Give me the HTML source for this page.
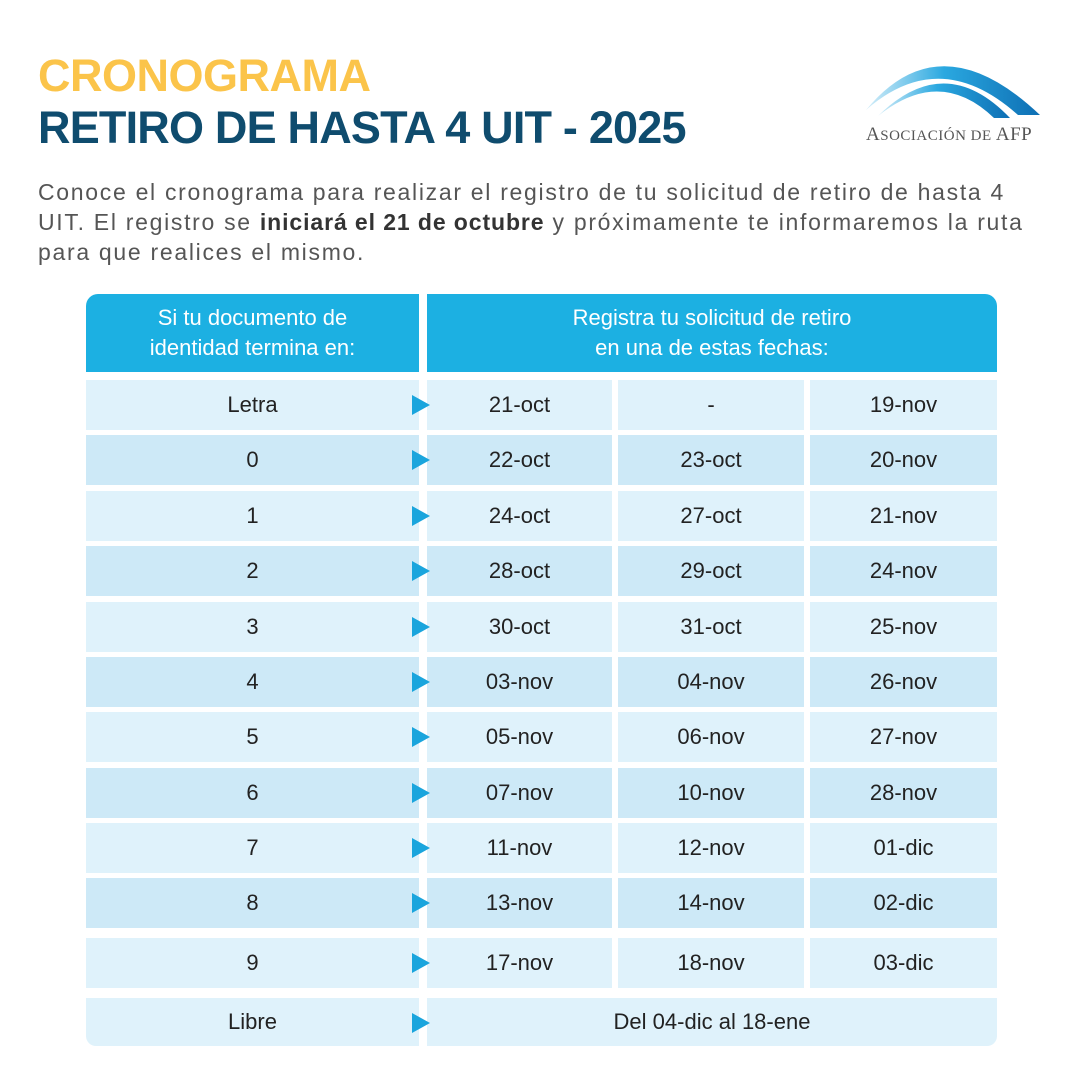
<!DOCTYPE html>
<html><head><meta charset="utf-8"><style>
*{margin:0;padding:0;box-sizing:border-box}
body{width:1080px;height:1072px;background:#fff;position:relative;overflow:hidden;font-family:"Liberation Sans",sans-serif}
.a{position:absolute}
.t1{left:38px;top:50px;font-size:45px;font-weight:bold;color:#fbc44a;letter-spacing:-0.5px}
.t2{left:38px;top:102px;font-size:45px;font-weight:bold;color:#0f4c6e;letter-spacing:-0.8px}
.p{left:38px;top:177px;width:1040px;font-size:23px;line-height:30px;color:#555;letter-spacing:1.7px;white-space:nowrap}
.p b{color:#333;letter-spacing:0.9px}
.h{background:#1cb0e2;color:#fff;font-size:22px;line-height:30px;text-align:center;display:flex;align-items:center;justify-content:center}
.c{display:flex;align-items:center;justify-content:center;font-size:22px;color:#222}
.tri{width:0;height:0;border-top:10px solid transparent;border-bottom:10px solid transparent;border-left:18px solid #1aa5dd}
</style></head><body>
<div class="a t1">CRONOGRAMA</div>
<div class="a t2">RETIRO DE HASTA 4 UIT - 2025</div>
<div class="a p">Conoce el cronograma para realizar el registro de tu solicitud de retiro de hasta 4<br>UIT. El registro se <b>iniciará el 21 de octubre</b> y próximamente te informaremos la ruta<br>para que realices el mismo.</div>
<svg class="a" style="left:860px;top:40px" width="190" height="80" viewBox="0 0 190 80">
<defs><linearGradient id="g" x1="0" x2="1"><stop offset="0" stop-color="#d5eef9"/><stop offset="0.45" stop-color="#2aa8e0"/><stop offset="1" stop-color="#0e6fb4"/></linearGradient></defs>
<path d="M6 70 Q80 -20 180 75 L158 75 Q80 5 6 70Z" fill="url(#g)"/>
<path d="M18 76 Q85 10 150 78 L134 78 Q80 26 18 76Z" fill="url(#g)"/>
</svg>
<div class="a" style="left:866px;top:124px;font-family:'Liberation Serif',serif;font-size:19px;color:#555;letter-spacing:0.5px">A<span style="font-size:15px">SOCIACIÓN DE</span> AFP</div>
<div class="a h" style="left:86px;top:294px;width:333px;height:78px;border-top-left-radius:12px">Si tu documento de<br>identidad termina en:</div>
<div class="a h" style="left:427px;top:294px;width:570px;height:78px;border-top-right-radius:12px">Registra tu solicitud de retiro<br>en una de estas fechas:</div>
<div id="rows"></div>
<script>
var d=[["Letra","21-oct","-","19-nov",405],["0","22-oct","23-oct","20-nov",460],["1","24-oct","27-oct","21-nov",516],["2","28-oct","29-oct","24-nov",571],["3","30-oct","31-oct","25-nov",627],["4","03-nov","04-nov","26-nov",682],["5","05-nov","06-nov","27-nov",737],["6","07-nov","10-nov","28-nov",793],["7","11-nov","12-nov","01-dic",848],["8","13-nov","14-nov","02-dic",903],["9","17-nov","18-nov","03-dic",963]];
var h="";
d.forEach(function(r,i){var bg=i%2?"#cde9f7":"#dff2fb";var t=r[4]-25;
h+='<div class="a c" style="left:86px;top:'+t+'px;width:333px;height:50px;background:'+bg+'">'+r[0]+'</div>';
var xs=[[427,185],[618,186],[810,187]];
for(var k=0;k<3;k++)h+='<div class="a c" style="left:'+xs[k][0]+'px;top:'+t+'px;width:'+xs[k][1]+'px;height:50px;background:'+bg+'">'+r[k+1]+'</div>';
h+='<div class="a tri" style="left:412px;top:'+(r[4]-10)+'px"></div>';});
h+='<div class="a c" style="left:86px;top:998px;width:333px;height:48px;background:#dff2fb;border-bottom-left-radius:10px">Libre</div>';
h+='<div class="a c" style="left:427px;top:998px;width:570px;height:48px;background:#dff2fb;border-bottom-right-radius:10px">Del 04-dic al 18-ene</div>';
h+='<div class="a tri" style="left:412px;top:1013px"></div>';
document.getElementById("rows").innerHTML=h;
</script>
</body></html>
